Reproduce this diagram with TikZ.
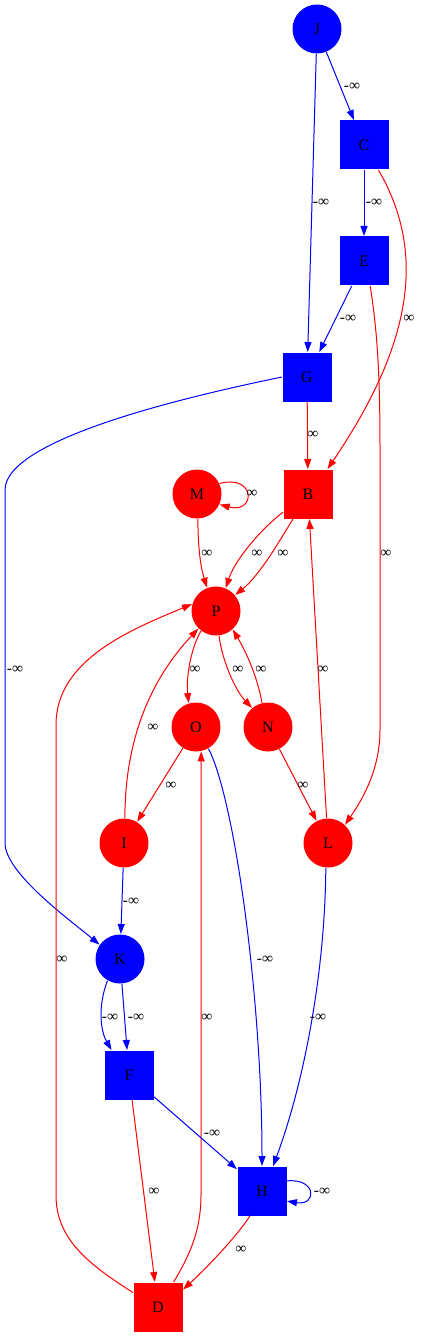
\documentclass[tikz,border=0pt]{standalone}
\usepackage{fontspec}
\setmainfont{Liberation Serif}
\usetikzlibrary{shapes,arrows.meta}

\begin{document}
\begin{tikzpicture}[x=1pt,y=-1pt,line width=1pt,
    >={Triangle[length=10pt,width=7pt]},
    dot/.style={circle,minimum size=49pt,inner sep=0pt,font=\fontsize{16}{16}\selectfont},
    box/.style={rectangle,minimum size=49pt,inner sep=0pt,font=\fontsize{16}{16}\selectfont},
    pinf/.style={->,red},
    ninf/.style={->,blue},
    lbl/.style={inner sep=0pt,font=\fontsize{15.5}{15.5}\selectfont}]
  \useasboundingbox (0,0) rectangle (421,1337);
  % vertices
  \node[dot,fill=blue] (J) at (317,29) {J};
  \node[box,fill=blue] (C) at (364,145) {C};
  \node[box,fill=blue] (E) at (364,261) {E};
  \node[box,fill=blue] (G) at (307,377) {G};
  \node[dot,fill=red] (M) at (197,494) {M};
  \node[box,fill=red] (B) at (308,494) {B};
  \node[dot,fill=red] (P) at (216,611) {P};
  \node[dot,fill=red] (O) at (196,727) {O};
  \node[dot,fill=red] (N) at (268,727) {N};
  \node[dot,fill=red] (I) at (124,843) {I};
  \node[dot,fill=red] (L) at (328,843) {L};
  \node[dot,fill=blue] (K) at (120,959) {K};
  \node[box,fill=blue] (F) at (129,1075) {F};
  \node[box,fill=blue] (H) at (262,1191) {H};
  \node[box,fill=red] (D) at (158,1307) {D};
  % edges
  \draw[ninf] (J) -- (C);
  \draw[ninf] (J) -- (G);
  \draw[ninf] (C) -- (E);
  \draw[ninf] (E) -- (G);
  \draw[pinf] (C.-60) .. controls (425,250) and (415,340) .. (B.52);
  \draw[pinf] (E.-76) .. controls (377,330) and (380,370) .. (380,450) -- (380,730) .. controls (380,770) and (362,800) .. (L.47);
  \draw[pinf] (G) -- (B);
  \draw[ninf] (G.west) .. controls (180,398) and (5,440) .. (5,490) -- (5,843) .. controls (5,873) and (70,920) .. (K.145);
  \draw[pinf] (M.25) .. controls (256,474) and (256,514) .. (M.-25);
  \draw[pinf] (M.-88) .. controls (198,545) and (200,565) .. (P.111);
  \draw[pinf] (B.216) .. controls (260,530) and (235,560) .. (P.67);
  \draw[pinf] (B.239) .. controls (280,540) and (260,575) .. (P.40);
  \draw[pinf] (P.-127) .. controls (190,650) and (186,680) .. (O.107);
  \draw[pinf] (P.-83) .. controls (222,660) and (235,690) .. (N.130);
  \draw[pinf] (N.104) .. controls (258,680) and (248,655) .. (P.-48);
  \draw[pinf] (L) -- (B);
  \draw[pinf] (I.88) .. controls (125,740) and (150,680) .. (P.-135);
  \draw[pinf] (O) -- (I);
  \draw[pinf] (N) -- (L);
  \draw[ninf] (I) -- (K);
  \draw[pinf] (D.150) .. controls (90,1265) and (56,1240) .. (56,1195) -- (56,725) .. controls (56,660) and (130,630) .. (P.164);
  \draw[pinf] (D.58) .. controls (190,1255) and (201,1230) .. (201,1195) -- (O.-78);
  \draw[ninf] (O.-60) .. controls (235,800) and (262,1000) .. (H.north);
  \draw[ninf] (L.-95) .. controls (325,970) and (305,1080) .. (H.66);
  \draw[ninf] (K.-120) .. controls (98,1005) and (100,1030) .. (F.125);
  \draw[ninf] (K) -- (F);
  \draw[ninf] (F) -- (H);
  \draw[pinf] (F) -- (D);
  \draw[ninf] (H.22) .. controls (317,1178) and (317,1206) .. (H.-22);
  \draw[pinf] (H.-116) .. controls (240,1232) and (210,1265) .. (D.35);
  % labels
  \node[lbl] (lJC) at (352,87) {-∞};
  \node[lbl] (lJG) at (321,203) {-∞};
  \node[lbl] (lCE) at (374,203) {-∞};
  \node[lbl] (lEG) at (348,319) {-∞};
  \node[lbl] (lCB) at (409,319) {∞};
  \node[lbl] (lGB) at (313,435) {∞};
  \node[lbl] (lMM) at (252,494) {∞};
  \node[lbl] (lGK) at (15,670) {-∞};
  \node[lbl] (lMP) at (207,554) {∞};
  \node[lbl] (lBPa) at (257,554) {∞};
  \node[lbl] (lBPb) at (283,554) {∞};
  \node[lbl] (lEL) at (386,554) {∞};
  \node[lbl] (lPO) at (195,670) {∞};
  \node[lbl] (lPN) at (238,670) {∞};
  \node[lbl] (lNP) at (261,670) {∞};
  \node[lbl] (lLB) at (323,670) {∞};
  \node[lbl] (lIP) at (153,728) {∞};
  \node[lbl] (lOI) at (171,786) {∞};
  \node[lbl] (lNL) at (303,786) {∞};
  \node[lbl] (lIK) at (131,902) {-∞};
  \node[lbl] (lDP) at (62,960) {∞};
  \node[lbl] (lOH) at (265,960) {-∞};
  \node[lbl] (lDO) at (207,1018) {∞};
  \node[lbl] (lLH) at (318,1018) {-∞};
  \node[lbl] (lKFa) at (110,1018) {-∞};
  \node[lbl] (lKFb) at (136,1018) {-∞};
  \node[lbl] (lFH) at (212,1134) {-∞};
  \node[lbl] (lFD) at (154,1192) {∞};
  \node[lbl] (lHH) at (322,1192) {-∞};
  \node[lbl] (lHD) at (241,1250) {∞};
\end{tikzpicture}
\end{document}
